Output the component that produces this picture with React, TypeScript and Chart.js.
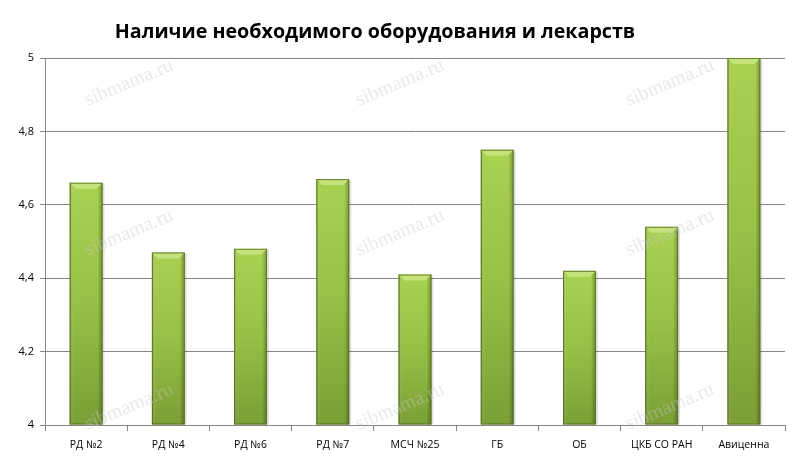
import React, { useEffect, useRef } from "react";
import { Chart, registerables } from "chart.js";

Chart.register(...registerables);

const TITLE = "Наличие необходимого оборудования и лекарств";
const categories = ["РД №2", "РД №4", "РД №6", "РД №7", "МСЧ №25", "ГБ", "ОБ", "ЦКБ СО РАН", "Авиценна"];
const values = [4.66, 4.47, 4.48, 4.67, 4.41, 4.75, 4.42, 4.54, 5.0];
const yTicks = [4, 4.2, 4.4, 4.6, 4.8, 5];
const WATERMARK = "sibmama.ru";

const FONT = "'Open Sans', 'Liberation Sans', sans-serif";

const barPainter = {
  id: "barPainter",
  afterDatasetsDraw(chart: any) {
    const ctx = chart.ctx;
    const area = chart.chartArea;
    const meta = chart.getDatasetMeta(0);
    meta.data.forEach((bar: any) => {
      const { x, y, base, width } = bar.getProps(["x", "y", "base", "width"], true);
      const l = x - width / 2;
      const r = x + width / 2;
      const top = Math.max(Math.min(y, base), area.top);
      const bot = Math.min(Math.max(y, base), area.bottom);
      ctx.save();
      ctx.fillStyle = "rgba(0,0,0,0.12)";
      ctx.fillRect(l + 1, top + 1, width + 1, bot - top - 1);
      const g = ctx.createLinearGradient(0, top, 0, bot);
      g.addColorStop(0, "#a9d152");
      g.addColorStop(0.5, "#97c046");
      g.addColorStop(1, "#7a9f36");
      ctx.fillStyle = g;
      ctx.fillRect(l, top, width, bot - top);
      const h = ctx.createLinearGradient(l, 0, r, 0);
      h.addColorStop(0, "rgba(60,90,20,0.35)");
      h.addColorStop(0.12, "rgba(255,255,255,0.0)");
      h.addColorStop(0.85, "rgba(0,0,0,0.0)");
      h.addColorStop(1, "rgba(40,60,10,0.35)");
      ctx.fillStyle = h;
      ctx.fillRect(l, top, width, bot - top);
      const bv = 6;
      ctx.beginPath();
      ctx.moveTo(l, top);
      ctx.lineTo(r, top);
      ctx.lineTo(r - bv, top + bv);
      ctx.lineTo(l + bv, top + bv);
      ctx.closePath();
      ctx.fillStyle = "#c4e37a";
      ctx.fill();
      ctx.strokeStyle = "rgba(80,105,30,0.8)";
      ctx.lineWidth = 1;
      ctx.strokeRect(l + 0.5, top + 0.5, width - 1, bot - top - 1);
      ctx.restore();
    });
    const cols = [129, 400, 670];
    const rows = [83, 233, 407];
    ctx.save();
    ctx.font = "20px 'Liberation Serif', 'DejaVu Serif', serif";
    ctx.fillStyle = "rgba(200,200,200,0.4)";
    ctx.textAlign = "center";
    ctx.textBaseline = "middle";
    rows.forEach((ry) =>
      cols.forEach((cx) => {
        ctx.save();
        ctx.translate(cx, ry);
        ctx.rotate(-0.4);
        ctx.fillText(WATERMARK, 0, 0);
        ctx.restore();
      })
    );
    ctx.restore();
  },
};

const titlePainter = {
  id: "titlePainter",
  afterDraw(chart: any) {
    const ctx = chart.ctx;
    ctx.save();
    ctx.font = `bold 19.7px ${FONT}`;
    ctx.fillStyle = "#000";
    ctx.textAlign = "center";
    ctx.textBaseline = "middle";
    ctx.fillText(TITLE, 375, 32);
    ctx.restore();
  },
};

export default function App() {
  const ref = useRef<HTMLCanvasElement>(null);
  useEffect(() => {
    document.body.style.margin = "0";
    const chart = new Chart(ref.current!, {
      type: "bar",
      data: {
        labels: categories,
        datasets: [
          {
            data: values,
            base: 4,
            backgroundColor: "rgba(0,0,0,0)",
            borderWidth: 0,
            categoryPercentage: 1,
            barPercentage: 0.4,
          } as any,
        ],
      },
      plugins: [barPainter, titlePainter],
      options: {
        responsive: false,
        animation: false,
        devicePixelRatio: 1,
        layout: { padding: { top: 58, right: 15, left: 0, bottom: 0 } },
        plugins: { legend: { display: false }, title: { display: false }, tooltip: { enabled: false } },
        scales: {
          x: {
            grid: { offset: true, drawOnChartArea: false, tickLength: 6, color: "#868686" },
            border: { color: "#868686" },
            ticks: { color: "#000", font: { family: FONT, size: 10.5 }, padding: 8, maxRotation: 0 },
            afterFit: (s: any) => {
              s.height = 45;
            },
          },
          y: {
            min: 4,
            max: 5,
            afterBuildTicks: (s: any) => {
              s.ticks = yTicks.map((v) => ({ value: v }));
            },
            grid: { color: "#868686", tickLength: 5 },
            border: { color: "#868686" },
            ticks: {
              color: "#000",
              font: { family: FONT, size: 11 },
              padding: 6,
              callback: (v: any) => String(v).replace(".", ","),
            },
            afterFit: (s: any) => {
              s.width = 45;
            },
          },
        },
      },
    });
    return () => chart.destroy();
  }, []);
  return (
    <div style={{ width: 800, height: 470, background: "#fff" }}>
      <canvas ref={ref} width={800} height={470} />
    </div>
  );
}
